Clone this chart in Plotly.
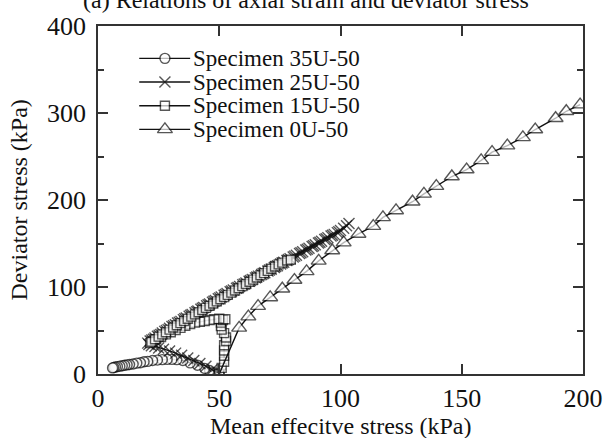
import plotly.graph_objects as go

# Stress paths (mean effective stress p', deviator stress q), kPa
series_names = ["Specimen 35U-50", "Specimen 25U-50", "Specimen 15U-50", "Specimen 0U-50"]

p_35u = [50, 48, 46, 44, 41, 38, 35, 32.5, 30.5, 28.5, 26.5, 24.5, 22.5, 20.5, 19, 17.5,
         16, 14.5, 13, 12, 11, 10, 9, 8, 7.2, 6.5, 6]
q_35u = [0, 1.5, 4, 6.5, 10, 12.8, 15.5, 16.5, 16.8, 16.8, 16.5, 16, 15.5, 14.5, 14, 13,
         12.5, 11.5, 11, 10.5, 10, 9.5, 9, 8.5, 8, 7.5, 7]

p_25u = [50.5, 49, 47, 44.5, 42, 39.5, 37, 34.5, 32, 29.5, 27, 25, 23.5, 22, 21, 20.5,
         21.5, 22.2, 22.9, 23.5, 24.5, 25.2, 25.9, 26.5, 27.5, 28.2, 28.9, 29.5, 30.5, 31.2,
         31.9, 32.8, 33.5, 34.2, 35.2, 35.8, 36.4, 37.6, 38.2, 38.8, 40, 40.7, 41.2, 42.4,
         43.0, 43.6, 44.8, 45.4, 46, 47.2, 47.8, 48.4, 49.6, 50.2, 50.8, 52, 52.6, 53.2,
         54.5, 55.1, 55.8, 57.1, 57.7, 58.4, 59.7, 60.3, 61, 62.3, 62.9, 63.6, 64.9, 65.5,
         66.2, 67.5, 68.1, 68.8, 70.1, 70.7, 71.4, 72.7, 73.3, 74, 75.3, 75.9, 76.6, 77.9,
         78.5, 79.2, 80.5, 81.1, 81.8, 83.1, 83.7, 84.4, 85.7, 86.3, 87, 88.3, 88.9, 89.6,
         90.9, 91.5, 92.2, 93.5, 94.1, 94.8, 96.1, 96.7, 97.4, 98.7, 99.3, 100, 101.3, 102.5,
         103.5]
q_25u = [0, 2, 5, 9, 12, 15.5, 18.5, 21.5, 24, 26.5, 28.5, 30, 31.5, 32.5, 34, 35.5,
         38, 39, 40, 41.5, 43.5, 44.5, 45.5, 47, 49, 50, 51, 52.5, 54.5, 55.5,
         56.5, 58.5, 59.5, 60.5, 62.5, 63.5, 64.5, 66.5, 67.5, 68.5, 70.5, 71.5, 72.5, 74.5,
         75.5, 76.5, 78.5, 79.5, 80.5, 82.5, 83.5, 84.5, 86.5, 87.5, 88.5, 90.5, 91.5, 92.5,
         94.5, 95.5, 96.5, 98.5, 99.5, 100.5, 102.5, 103.5, 104.5, 106.5, 107.5, 108.5, 110.5, 111.5,
         112.5, 114.5, 115.5, 116.5, 118.5, 119.5, 120.5, 122.5, 123.5, 124.5, 126.5, 127.5, 128.5, 130.5,
         131.5, 132.5, 134.5, 135.5, 136.5, 138.5, 139.5, 140.5, 142.5, 143.5, 144.5, 146.5, 147.5, 148.5,
         150.5, 151.5, 152.5, 154.5, 155.5, 156.5, 158.5, 159.5, 160.5, 162.5, 163.5, 165, 167.5, 170.5,
         173]

p_15u = [50, 51, 52, 52, 52, 52, 52.8, 52.8, 52, 51, 50.7, 50.7, 51.5, 52.5, 50, 48, 46, 44,
         42, 40, 38, 36, 34, 32, 30, 28, 26, 24, 22.5, 21.5, 22, 23.5, 25, 26.5, 28, 29.5,
         31, 32.5, 34, 35.5, 37, 38.5, 40, 41.5, 43, 44.5, 46, 47.5, 49, 50.5, 52, 53.5, 55,
         56.5, 58, 59.5, 61, 62.5, 64, 65.5, 67, 68.5, 70, 71.5, 73, 74.5, 76, 78, 79.5]
q_15u = [0, 7, 14, 21, 27, 33, 38, 42, 47, 51, 55, 59, 62, 63, 63.5, 63, 62, 61,
         60, 59, 57.5, 55.5, 53, 50.5, 48, 45.5, 42.5, 40, 37.5, 35.5, 37, 40, 43, 45.5, 48, 51,
         53.5, 56, 58.5, 61, 63.5, 66, 68.5, 71, 73.5, 76, 78.5, 81, 83.5, 86, 88.5, 91, 93.5,
         96, 98.5, 101, 103.5, 106, 108.5, 111, 113.5, 116, 118.5, 121, 123.5, 126, 128, 130.5, 131.5]

p_0u = [50, 58.2, 62, 66, 71, 76, 81, 86, 91, 96.6, 101.3, 107.4, 113.5, 117.5, 122.9,
        129.7, 134.4, 139.5, 145.9, 152, 158, 162.5, 168.8, 175.2, 180.3, 188.7, 193.1, 198.8]
q_0u = [0, 53, 66, 78, 88, 98, 108, 118, 130, 142, 151, 161, 170, 180, 188,
        198, 207, 216, 227, 235, 245.5, 255, 262.5, 272, 281, 294, 302, 309.6]

x_ticks = [0, 50, 100, 150, 200]
y_ticks = [0, 100, 200, 300, 400]

FONT = "Liberation Serif, Times New Roman, serif"
INK = "#111111"
AXC = "#333333"

# (x, y, symbol, size, fill colour)
series = [
    (p_35u, q_35u, "circle", 10, "white"),
    (p_25u, q_25u, "x-thin", 11, INK),
    (p_15u, q_15u, "square", 9, "white"),
    (p_0u, q_0u, "triangle-up", 13, "white"),
]

fig = go.Figure()

for name, (px, qy, sym, size, fill) in zip(series_names, series):
    sizes = [size] * len(px)
    if name == "Specimen 0U-50":
        sizes[0] = 0  # no marker at the consolidation point
    fig.add_trace(go.Scatter(
        x=px, y=qy, mode="lines+markers", name=name, showlegend=False,
        line=dict(color=INK, width=1.4),
        marker=dict(symbol=sym, size=sizes, color=fill,
                    line=dict(color=INK, width=1.4)),
    ))

# Key in the upper left of the plotting area (paper-space overlay axes)
key_rows = [0.907, 0.839, 0.771, 0.703]
for name, (px, qy, sym, size, fill), ky in zip(series_names, series, key_rows):
    fig.add_trace(go.Scatter(
        x=[0.085, 0.138, 0.19], y=[ky, ky, ky], xaxis="x2", yaxis="y2",
        mode="lines+markers", showlegend=False, hoverinfo="skip",
        line=dict(color=INK, width=1.4),
        marker=dict(symbol=sym, size=[0, size, 0], color=fill,
                    line=dict(color=INK, width=1.4)),
    ))
    fig.add_annotation(x=0.192, y=ky, xref="paper", yref="paper", text=name,
                       showarrow=False, xanchor="left", yanchor="middle",
                       font=dict(family=FONT, size=23, color=INK))

axis_common = dict(
    showline=True, linecolor=AXC, linewidth=1.5, mirror="ticks",
    ticks="inside", tickcolor=AXC, tickwidth=1.5, ticklen=10,
    showgrid=False, zeroline=False,
    tickfont=dict(family=FONT, size=26, color=INK),
)

fig.update_layout(
    width=615, height=438,
    margin=dict(l=98, r=23, t=20, b=64),
    paper_bgcolor="white", plot_bgcolor="white",
    xaxis=dict(range=[0, 200], tickvals=x_ticks, ticklabelstandoff=0, **axis_common),
    yaxis=dict(range=[0, 400], tickvals=y_ticks, ticklabelstandoff=5,
               minor=dict(dtick=50, ticks="inside", ticklen=6, tickcolor=AXC, tickwidth=1.5),
               **axis_common),
    xaxis2=dict(range=[0, 1], domain=[0, 1], overlaying="x", visible=False, fixedrange=True),
    yaxis2=dict(range=[0, 1], domain=[0, 1], overlaying="y", visible=False, fixedrange=True),
    showlegend=False,
)

# Axis titles and the panel caption
fig.add_annotation(x=0.5, y=-53 / 354, xref="paper", yref="paper",
                   text="Mean effecitve stress (kPa)", showarrow=False,
                   xanchor="center", yanchor="middle",
                   font=dict(family=FONT, size=24, color=INK))
fig.add_annotation(x=-80 / 494, y=0.5, xref="paper", yref="paper",
                   text="Deviator stress (kPa)", showarrow=False, textangle=-90,
                   xanchor="center", yanchor="middle",
                   font=dict(family=FONT, size=24, color=INK))
fig.add_annotation(x=0.429, y=380 / 354, xref="paper", yref="paper",
                   text="(a) Relations of axial strain and deviator stress", showarrow=False,
                   xanchor="center", yanchor="middle",
                   font=dict(family=FONT, size=24, color=INK))

fig.write_html("out.html")
